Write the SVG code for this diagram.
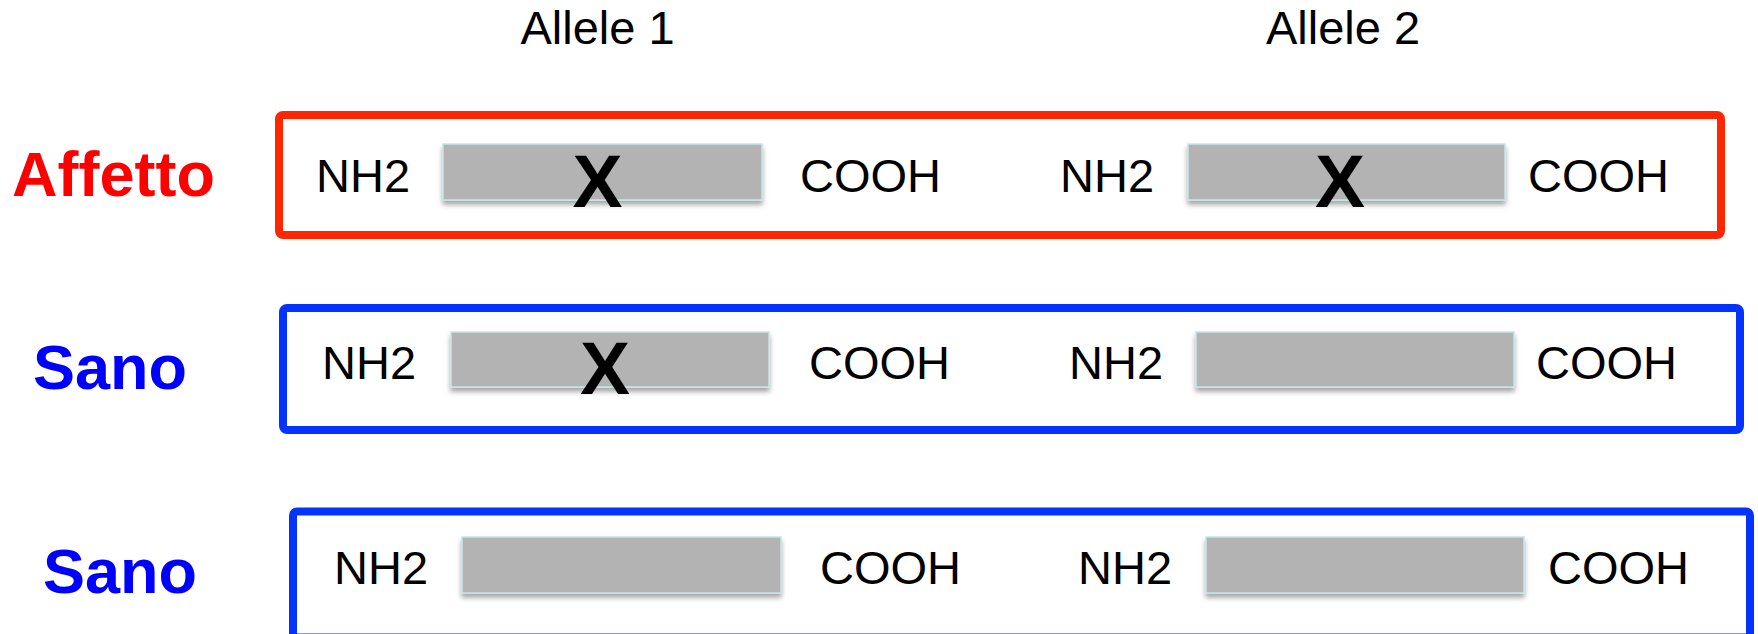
<svg xmlns="http://www.w3.org/2000/svg" width="1758" height="634" viewBox="0 0 1758 634">
  <defs>
    <filter id="shadow" x="-5%" y="-20%" width="110%" height="160%">
      <feDropShadow dx="0" dy="4" stdDeviation="2.5" flood-color="#000" flood-opacity="0.35"/>
    </filter>
  </defs>
  <style>
    text { font-family: "Liberation Sans", Arial, Helvetica, sans-serif; }
    .head { font-size: 47px; fill: #000; text-anchor: middle; }
    .term { font-size: 47px; fill: #000; }
    .mut { font-size: 75px; font-weight: bold; fill: #000; text-anchor: middle; }
    .lbl { font-size: 63px; font-weight: bold; }
    .affected { fill: #ff0000; }
    .healthy { fill: #0000ff; }
    .frame { fill: #fff; stroke-width: 8; }
    .frame-red { stroke: #ff2600; }
    .frame-blue { stroke: #0433ff; }
    .domain { fill: #b3b3b3; stroke: #c4e6e8; stroke-width: 1.5; filter: url(#shadow); }
  </style>

  <rect width="1758" height="634" fill="#fff"/>

  <!-- column headings -->
  <g id="headings">
    <text class="head" x="597.5" y="44">Allele 1</text>
    <text class="head" x="1343" y="44">Allele 2</text>
  </g>

  <!-- affected: both alleles mutated -->
  <g id="row-affetto">
    <text class="lbl affected" x="12" y="196">Affetto</text>
    <rect class="frame frame-red" x="279" y="115" width="1442" height="120" rx="4"/>
    <text class="term" x="316" y="192">NH2</text>
    <rect class="domain" x="443" y="144" width="319" height="56"/>
    <text class="mut" x="597.5" y="207">X</text>
    <text class="term" x="800" y="192">COOH</text>
    <text class="term" x="1060" y="192">NH2</text>
    <rect class="domain" x="1188" y="144" width="317" height="56"/>
    <text class="mut" x="1340" y="207">X</text>
    <text class="term" x="1528" y="192">COOH</text>
  </g>

  <!-- healthy carrier: one allele mutated -->
  <g id="row-sano-carrier">
    <text class="lbl healthy" x="33" y="389">Sano</text>
    <rect class="frame frame-blue" x="283" y="308" width="1457" height="122" rx="4"/>
    <text class="term" x="322" y="379">NH2</text>
    <rect class="domain" x="451" y="332" width="318" height="55"/>
    <text class="mut" x="605" y="394">X</text>
    <text class="term" x="809" y="379">COOH</text>
    <text class="term" x="1069" y="379">NH2</text>
    <rect class="domain" x="1196" y="332" width="318" height="55"/>
    <text class="term" x="1536" y="379">COOH</text>
  </g>

  <!-- healthy: no mutated allele -->
  <g id="row-sano-wildtype">
    <text class="lbl healthy" x="43" y="593">Sano</text>
    <rect class="frame frame-blue" x="293" y="511.5" width="1457" height="126" rx="4"/>
    <text class="term" x="334" y="584">NH2</text>
    <rect class="domain" x="462" y="537" width="319" height="56"/>
    <text class="term" x="820" y="584">COOH</text>
    <text class="term" x="1078" y="584">NH2</text>
    <rect class="domain" x="1206" y="537" width="318" height="56"/>
    <text class="term" x="1548" y="584">COOH</text>
  </g>
</svg>
